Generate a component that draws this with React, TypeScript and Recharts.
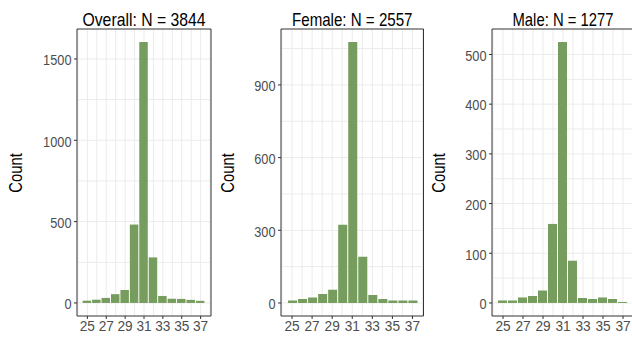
import React from 'react';
import { BarChart, Bar, XAxis, YAxis, CartesianGrid, ReferenceArea } from 'recharts';

const ages = [25, 26, 27, 28, 29, 30, 31, 32, 33, 34, 35, 36, 37];
const overallCounts = [14, 20, 31, 54, 80, 482, 1604, 280, 43, 26, 25, 19, 13];
const femaleCounts = [10, 16, 22, 37, 54, 323, 1077, 191, 33, 16, 10, 10, 10];
const maleCounts = [5, 5, 11, 14, 25, 159, 525, 85, 10, 8, 11, 8, 2];

const xTicks = [25, 27, 29, 31, 33, 35, 37];
const xGrid = [24, 25, 26, 27, 28, 29, 30, 31, 32, 33, 34, 35, 36, 37, 38];
const overallTicks = [0, 500, 1000, 1500];
const overallGrid = [0, 250, 500, 750, 1000, 1250, 1500];
const femaleTicks = [0, 300, 600, 900];
const femaleGrid = [0, 150, 300, 450, 600, 750, 900, 1050];
const maleTicks = [0, 100, 200, 300, 400, 500];
const maleGrid = [0, 50, 100, 150, 200, 250, 300, 350, 400, 450, 500];

const titles = ['Overall: N = 3844', 'Female: N = 2557', 'Male: N = 1277'];
const titleLengths = [123, 120.5, 101];

const FONT = '"Liberation Sans", Arial, sans-serif';
const BAR = '#769d5d';
const GRID = '#ebebeb';
const BORDER = '#333333';
const TICK_TEXT = '#4d4d4d';

const X_DOMAIN: [number, number] = [23.9, 38.1];
const PLOT_TOP = 29;
const PLOT_BOTTOM = 316;
const H = 338;

const YTick = (props: any) => {
  const { x, y, payload } = props;
  const s = String(payload.value);
  return (
    <text
      x={x}
      y={y}
      dy={6.3}
      textAnchor="end"
      fontFamily={FONT}
      fontSize={14.5}
      fill={TICK_TEXT}
      textLength={s.length * 7.1}
      lengthAdjust="spacingAndGlyphs"
    >
      {s}
    </text>
  );
};

const XTick = (props: any) => {
  const { x, y, payload } = props;
  const s = String(payload.value);
  return (
    <text
      x={x}
      y={y}
      dy={11.2}
      textAnchor="middle"
      fontFamily={FONT}
      fontSize={15.3}
      fill={TICK_TEXT}
      textLength={s.length * 7.6}
      lengthAdjust="spacingAndGlyphs"
    >
      {s}
    </text>
  );
};

type PanelProps = {
  left: number;
  plotLeft: number;
  plotRight: number;
  counts: number[];
  ticks: number[];
  grid: number[];
};

function Panel({ left, plotLeft, plotRight, counts, ticks, grid }: PanelProps) {
  const data = ages.map((a, i) => ({ age: a, count: counts[i] }));
  const maxV = Math.max(...counts);
  const yDomain: [number, number] = [-0.05 * maxV, 1.05 * maxV];
  const yAxisWidth = 60;
  const mLeft = plotLeft - left - yAxisWidth;
  const width = 230;
  const mRight = width - (plotRight - left);
  const plotW = plotRight - plotLeft;
  const pxPerUnit = plotW / (X_DOMAIN[1] - X_DOMAIN[0]);
  const barSize = 0.9 * pxPerUnit;

  const vGen = (props: any) => {
    const o = props.offset;
    return xGrid.map((v) => o.left + ((v - X_DOMAIN[0]) / (X_DOMAIN[1] - X_DOMAIN[0])) * o.width);
  };
  const hGen = (props: any) => {
    const o = props.offset;
    return grid.map((v) => o.top + (1 - (v - yDomain[0]) / (yDomain[1] - yDomain[0])) * o.height);
  };

  return (
    <div style={{ position: 'absolute', left, top: 0, width, height: H }}>
      <BarChart
        width={width}
        height={H}
        data={data}
        margin={{ top: PLOT_TOP, bottom: 0, left: mLeft, right: mRight }}
        barCategoryGap={0}
      >
        <CartesianGrid
          stroke={GRID}
          strokeWidth={1}
          verticalCoordinatesGenerator={vGen}
          horizontalCoordinatesGenerator={hGen}
        />
        <XAxis
          dataKey="age"
          type="number"
          domain={X_DOMAIN}
          ticks={xTicks}
          allowDataOverflow
          height={H - PLOT_BOTTOM}
          axisLine={false}
          tickLine={{ stroke: BORDER }}
          tickSize={3}
          tickMargin={1}
          interval={0}
          tick={<XTick />}
        />
        <YAxis
          type="number"
          domain={yDomain}
          ticks={ticks}
          allowDataOverflow
          width={yAxisWidth}
          axisLine={false}
          tickLine={{ stroke: BORDER }}
          tickSize={3}
          tickMargin={2.5}
          interval={0}
          tick={<YTick />}
        />
        <Bar dataKey="count" fill={BAR} barSize={barSize} isAnimationActive={false} />
        <ReferenceArea
          x1={X_DOMAIN[0]}
          x2={X_DOMAIN[1]}
          y1={yDomain[0]}
          y2={yDomain[1]}
          fill="none"
          stroke={BORDER}
          strokeWidth={1}
          ifOverflow="visible"
        />
      </BarChart>
    </div>
  );
}

const panels = [
  { left: 0, plotLeft: 77, plotRight: 211, counts: overallCounts, ticks: overallTicks, grid: overallGrid, countX: 22 },
  { left: 210, plotLeft: 281, plotRight: 423.5, counts: femaleCounts, ticks: femaleTicks, grid: femaleGrid, countX: 234 },
  { left: 420, plotLeft: 492, plotRight: 634, counts: maleCounts, ticks: maleTicks, grid: maleGrid, countX: 445 },
];

export default function App() {
  return (
    <div
      style={{
        position: 'absolute',
        left: 0,
        top: 0,
        width: 632,
        height: H,
        overflow: 'hidden',
        background: '#ffffff',
      }}
    >
      {panels.map((p, i) => (
        <Panel
          key={i}
          left={p.left}
          plotLeft={p.plotLeft}
          plotRight={p.plotRight}
          counts={p.counts}
          ticks={p.ticks}
          grid={p.grid}
        />
      ))}
      <svg
        width={632}
        height={H}
        style={{ position: 'absolute', left: 0, top: 0, pointerEvents: 'none' }}
      >
        {panels.map((p, i) => (
          <g key={i}>
            <text
              x={(p.plotLeft + p.plotRight) / 2}
              y={26}
              textAnchor="middle"
              fontFamily={FONT}
              fontSize={17.7}
              fill="#000"
              textLength={titleLengths[i]}
              lengthAdjust="spacingAndGlyphs"
            >
              {titles[i]}
            </text>
            <text
              transform={`translate(${p.countX}, 173) rotate(-90)`}
              textAnchor="middle"
              fontFamily={FONT}
              fontSize={17.7}
              fill="#000"
              textLength={39.5}
              lengthAdjust="spacingAndGlyphs"
            >
              Count
            </text>
          </g>
        ))}
      </svg>
    </div>
  );
}
